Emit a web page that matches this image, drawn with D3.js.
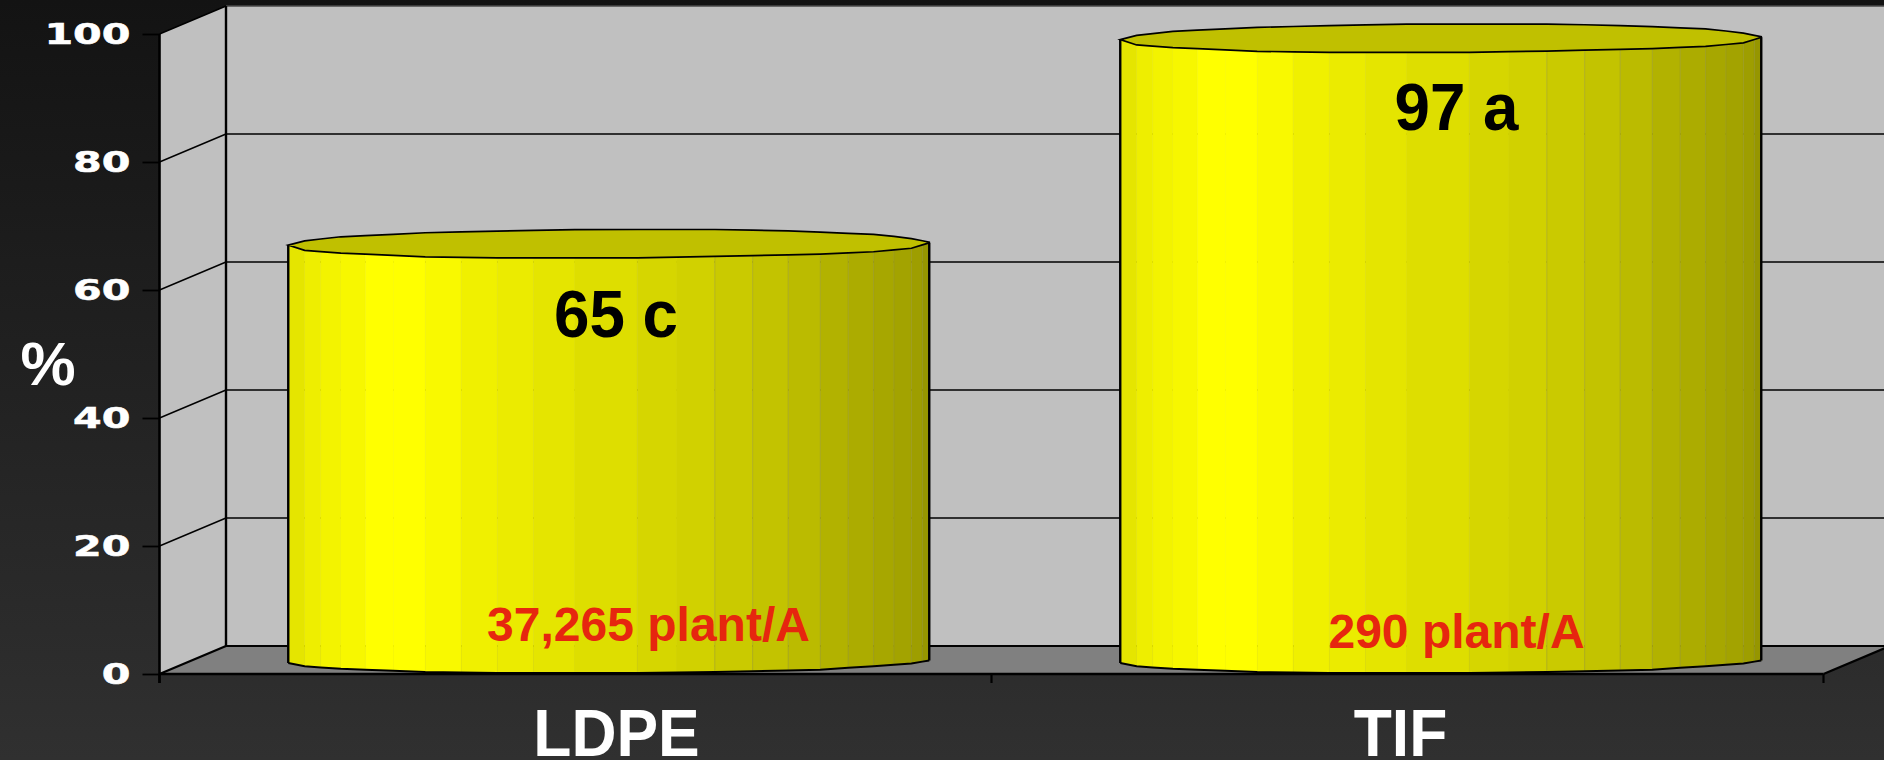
<!DOCTYPE html>
<html><head><meta charset="utf-8">
<style>html,body{margin:0;padding:0;background:#222;overflow:hidden}svg{display:block}</style>
<script src="https://cdn.jsdelivr.net/npm/d3@7"></script></head>
<body><svg id="c" width="1884" height="760"></svg>
<script>
const categories = ["LDPE", "TIF"];
const barValues = [65.3, 97.4];
const valueLabels = ["65 c", "97 a"];
const densityLabels = ["37,265 plant/A", "290 plant/A"];
const yTicks = [0, 20, 40, 60, 80, 100];
const facetStops = [0,.0256,.0505,.0821,.1202,.1636,.2137,.2699,.3261,.3829,.4472,.5447,.6064,.6655,.7246,.78,.83,.8736,.9131,.9449,.9722,.9893,1];
const facetTones = [229,238,243,247,255,255,249,240,235,229,222,214,209,202,195,187,178,172,167,163,158,150];

const W = 1884, H = 760;
const svg = d3.select("#c");
const x0 = 159.5, x1 = 1823.5, depthX = 66.5, depthY = 28;
const y = d3.scaleLinear().domain([0, 100]).range([674, 34]);
const x = d3.scaleBand().domain(categories).range([x0, x1]);
const barW = 641, baseLift = 12.3;

// faceted outline of the cylinder's ends, offset from the end's centre line
const backEdge = d3.scaleLinear().domain([0,.026,.082,.213,.326,.458,.676,.788,.92,.971,1]).range([1.3,-3,-7,-11,-12.7,-14.3,-14.3,-12.7,-9.3,-5.3,-1.7]);
const frontEdge = d3.scaleLinear().domain([0,.026,.082,.213,.326,.545,.665,.83,.913,.971,1]).range([1.3,6.7,9.3,13,14,14,12.7,10.3,8,4.7,-1]);
const bottomEdge = d3.scaleLinear().domain([0,.026,.082,.213,.326,.545,.665,.83,.971,1]).range([1.3,4.7,7,10.3,11.3,11.3,10.3,8,2,-1.3]);

const defs = svg.append("defs");
const bg = defs.append("linearGradient").attr("id","bg").attr("x1",0).attr("y1",0).attr("x2",0).attr("y2",1);
bg.append("stop").attr("offset",0).attr("stop-color","#131313");
bg.append("stop").attr("offset",1).attr("stop-color","#303030");
svg.append("rect").attr("width",W).attr("height",H).attr("fill","url(#bg)");

const line = d3.line();
const poly = (pts, fill) => svg.append("path").attr("d", line(pts)+"Z").attr("fill",fill);

// walls and floor
const yTop = y(100), yZero = y(0), backX = x0 + depthX;
poly([[x0,yZero],[backX,yZero-depthY],[x1+depthX,yZero-depthY],[x1,yZero]], "#808080");
poly([[x0,yTop],[backX,yTop-depthY],[backX,yZero-depthY],[x0,yZero]], "#c0c0c0");
poly([[backX,yTop-depthY],[W+10,yTop-depthY],[W+10,yZero-depthY],[backX,yZero-depthY]], "#c0c0c0");

const seg = (a,b,c,d,sw,col) => svg.append("line").attr("x1",a).attr("y1",b).attr("x2",c).attr("y2",d).attr("stroke",col||"#000").attr("stroke-width",sw);
yTicks.forEach(v => {
  const yy = y(v);
  seg(x0,yy,backX,yy-depthY, v===0?2.2:1.6);
  if (v===100) seg(backX,yy-depthY,W,yy-depthY,1.4,"#4a4a4a");
  else seg(backX,yy-depthY,W,yy-depthY, v===0?2:1.6);
});
seg(backX,yTop-depthY,backX,yZero-depthY,2.4);
seg(x1,yZero,x1+depthX,yZero-depthY,2.2);

// cylinders
const tone = t => `rgb(${t},${t},0)`;
categories.forEach((c,i) => {
  const cx = x(c) + x.bandwidth()/2 + depthX/2;
  const left = cx - barW/2;
  const xs = facetStops.map(f => left + f*barW);
  const bc = yZero - baseLift, tc = y(barValues[i]) - baseLift;
  const bot = f => bc + bottomEdge(f);
  const tFront = f => tc + frontEdge(f);
  const tBack = f => tc + backEdge(f);
  facetTones.forEach((t,k) => {
    const a = facetStops[k], b = facetStops[k+1];
    svg.append("path").attr("d", line([[xs[k],tFront(a)],[xs[k+1],tFront(b)],[xs[k+1],bot(b)],[xs[k],bot(a)]])+"Z")
      .attr("fill",tone(t)).attr("stroke",tone(t)).attr("stroke-width",0.4);
  });
  facetStops.slice(1,-1).forEach((f,k) => {
    if (f > 0.65) seg(xs[k+1],tFront(f),xs[k+1],bot(f),0.8,"rgba(150,150,60,0.5)");
  });
  svg.append("path").attr("d", line(facetStops.map((f,k)=>[xs[k],bot(f)])))
    .attr("fill","none").attr("stroke","#000").attr("stroke-width",2);
  seg(xs[0],tFront(0),xs[0],bot(0),2.4);
  seg(xs[22],tFront(1),xs[22],bot(1),2.4);
  const ring = facetStops.map((f,k)=>[xs[k],tBack(f)]).concat(facetStops.map((f,k)=>[xs[k],tFront(f)]).reverse());
  svg.append("path").attr("d", line(ring)+"Z").attr("fill","#c0c000").attr("stroke","#000").attr("stroke-width",1.7);
});

// axes
seg(x0,yTop,x0,yZero+9,2.6);
seg(x0-0.5,yZero,x1,yZero,2.4);
const yAxis = svg.append("g").attr("transform",`translate(${x0},0)`)
  .call(d3.axisLeft(y).tickValues(yTicks).tickSize(17).tickPadding(12).tickFormat(d3.format("d")));
yAxis.select(".domain").remove();
yAxis.selectAll("line").attr("stroke","#000").attr("stroke-width",1.8);
yAxis.selectAll("text").attr("fill","#fff").attr("stroke","#fff").attr("stroke-width",0.5).attr("dy",null).attr("dominant-baseline","central")
  .style("font-family","'DejaVu Sans'").style("font-weight","bold").style("font-size","27.5px")
  .attr("text-anchor","end")
  .attr("transform","translate(-29,0) scale(1.5,1)").attr("x",0);

categories.concat(["end"]).forEach((c,i) => {
  const px = i < categories.length ? x(c) : x1;
  seg(px,yZero,px,yZero+9,2.2);
});

const txt = (s,px,py,size,fill,sx) => svg.append("text").text(s)
  .attr("transform",`translate(${px},${py}) scale(${sx||1},1)`).attr("text-anchor","middle")
  .attr("fill",fill).style("font-family","'Liberation Sans',Arial,sans-serif").style("font-weight","bold").style("font-size",size+"px");

txt("%",48,385,62,"#fff");
const catX = [616.5,1400.5], valX = [616,1456.5], valY = [337,130], denX = [648.5,1456.5], denY = [641,648];
categories.forEach((c,i)=>{
  txt(c,catX[i],755.5,66,"#fff",0.945);
  txt(valueLabels[i],valX[i],valY[i],66,"#000",0.965);
  txt(densityLabels[i],denX[i],denY[i],48,"#e6260f");
});
</script></body></html>
